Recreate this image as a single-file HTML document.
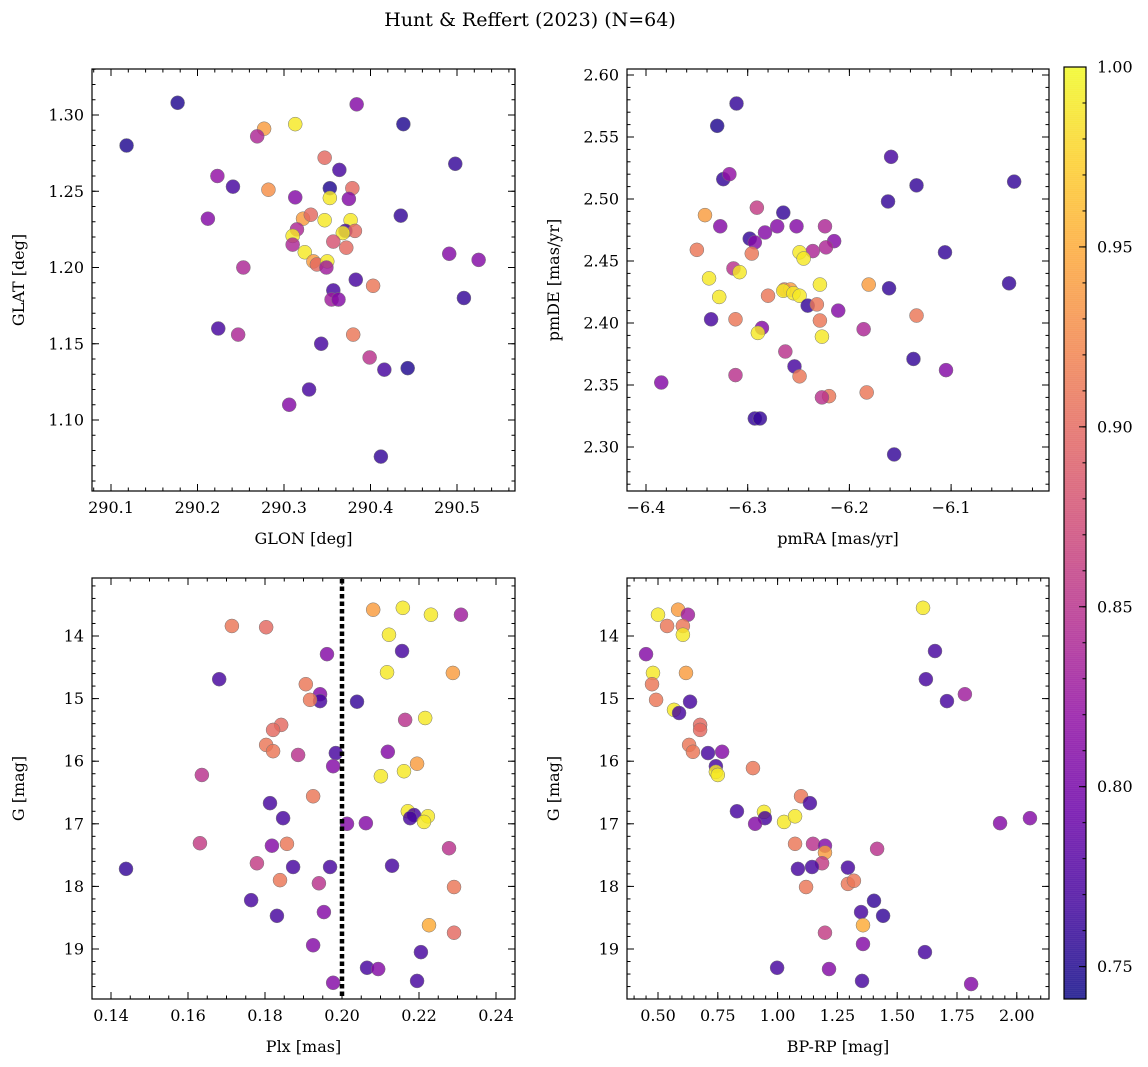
<!DOCTYPE html>
<html><head><meta charset="utf-8"><style>
html,body{margin:0;padding:0;background:#fff;}
svg{display:block;font-family:"DejaVu Serif","Liberation Serif",serif;}
</style></head><body>
<svg id="fig" width="1148" height="1067" viewBox="0 0 1148 1067" xmlns="http://www.w3.org/2000/svg">
<text x="530" y="26" font-size="19" text-anchor="middle">Hunt &amp; Reffert (2023) (N=64)</text>
</svg>
<script>
// ---------- data ----------
const glon=[290.118,290.177,290.384,290.438,290.277,290.269,290.313,290.498,290.347,290.364,290.223,290.241,290.282,290.353,290.379,290.313,290.353,290.375,290.212,290.435,290.322,290.331,290.347,290.377,290.315,290.371,290.382,290.368,290.310,290.310,290.357,290.372,290.324,290.491,290.334,290.338,290.350,290.349,290.525,290.253,290.383,290.403,290.357,290.355,290.363,290.508,290.224,290.247,290.380,290.343,290.399,290.416,290.443,290.329,290.306,290.412];
const glat=[1.280,1.308,1.307,1.294,1.291,1.286,1.294,1.268,1.272,1.264,1.260,1.253,1.251,1.252,1.252,1.246,1.2456,1.245,1.232,1.234,1.232,1.2346,1.231,1.231,1.225,1.224,1.224,1.2226,1.2207,1.215,1.217,1.213,1.210,1.209,1.204,1.202,1.204,1.200,1.205,1.200,1.192,1.188,1.185,1.179,1.179,1.180,1.160,1.156,1.156,1.150,1.141,1.133,1.134,1.120,1.110,1.076];
const c1=[0.75,0.75,0.81,0.75,0.94,0.84,0.99,0.76,0.90,0.77,0.82,0.77,0.93,0.75,0.90,0.81,0.99,0.81,0.81,0.76,0.94,0.90,0.99,0.99,0.84,0.77,0.90,0.99,0.99,0.84,0.88,0.90,0.99,0.81,0.94,0.90,0.99,0.83,0.81,0.84,0.77,0.91,0.77,0.83,0.81,0.76,0.77,0.84,0.91,0.77,0.85,0.77,0.75,0.77,0.81,0.76];

const pmra=[-6.311,-6.330,-6.324,-6.318,-6.159,-6.134,-6.038,-6.162,-6.342,-6.265,-6.291,-6.327,-6.271,-6.252,-6.224,-6.215,-6.236,-6.223,-6.298,-6.350,-6.293,-6.283,-6.296,-6.249,-6.245,-6.106,-6.314,-6.308,-6.338,-6.161,-6.181,-6.229,-6.043,-6.264,-6.258,-6.265,-6.255,-6.249,-6.280,-6.328,-6.211,-6.241,-6.232,-6.134,-6.336,-6.312,-6.229,-6.286,-6.186,-6.290,-6.227,-6.137,-6.263,-6.254,-6.249,-6.312,-6.105,-6.183,-6.385,-6.220,-6.227,-6.293,-6.288,-6.156];
const pmde=[2.577,2.559,2.516,2.520,2.534,2.511,2.514,2.498,2.487,2.489,2.493,2.478,2.478,2.478,2.478,2.466,2.458,2.461,2.468,2.459,2.465,2.473,2.456,2.457,2.452,2.457,2.444,2.441,2.436,2.428,2.431,2.431,2.432,2.427,2.427,2.426,2.424,2.422,2.422,2.421,2.410,2.414,2.415,2.406,2.403,2.403,2.402,2.396,2.395,2.392,2.389,2.371,2.377,2.365,2.357,2.358,2.362,2.344,2.352,2.341,2.340,2.323,2.323,2.294];
const c2=[0.76,0.75,0.76,0.82,0.77,0.76,0.76,0.76,0.94,0.76,0.86,0.81,0.81,0.81,0.84,0.81,0.84,0.84,0.76,0.91,0.81,0.81,0.91,0.99,0.99,0.76,0.85,0.99,0.99,0.76,0.94,0.99,0.76,0.91,0.94,0.99,0.99,0.99,0.91,0.99,0.81,0.76,0.91,0.91,0.77,0.91,0.91,0.81,0.84,0.99,0.99,0.76,0.85,0.77,0.91,0.85,0.81,0.91,0.81,0.91,0.85,0.76,0.76,0.76];

const plx=[0.1714,0.1803,0.2081,0.2158,0.2231,0.2309,0.2122,0.1681,0.1961,0.2156,0.2117,0.2288,0.1906,0.1943,0.1943,0.1917,0.2039,0.2216,0.2164,0.1842,0.1821,0.1803,0.1821,0.1886,0.1984,0.2119,0.1977,0.2195,0.2161,0.2101,0.1636,0.1925,0.1813,0.2171,0.2187,0.2177,0.2223,0.2213,0.1847,0.2013,0.2062,0.1631,0.1818,0.1857,0.2278,0.1439,0.1779,0.1873,0.1969,0.2130,0.1839,0.1940,0.2291,0.1764,0.1831,0.1953,0.2226,0.2291,0.1925,0.2205,0.2065,0.2094,0.2195,0.1977];
const gmag3=[13.84,13.86,13.58,13.55,13.66,13.66,13.98,14.69,14.29,14.24,14.58,14.59,14.77,14.93,15.04,15.02,15.05,15.31,15.34,15.42,15.50,15.74,15.84,15.90,15.87,15.85,16.08,16.04,16.16,16.24,16.22,16.56,16.67,16.80,16.86,16.91,16.88,16.97,16.91,17.00,16.99,17.31,17.35,17.32,17.39,17.72,17.63,17.69,17.69,17.67,17.90,17.95,18.01,18.22,18.47,18.41,18.62,18.74,18.94,19.05,19.30,19.32,19.51,19.54];
const c3=[0.91,0.90,0.94,0.99,0.99,0.83,0.99,0.77,0.81,0.77,0.99,0.94,0.91,0.81,0.77,0.91,0.76,0.99,0.85,0.90,0.90,0.91,0.91,0.85,0.77,0.81,0.81,0.94,0.99,0.99,0.85,0.91,0.77,0.99,0.77,0.77,0.99,0.99,0.77,0.81,0.81,0.86,0.81,0.91,0.85,0.76,0.86,0.77,0.77,0.77,0.91,0.85,0.91,0.77,0.77,0.81,0.95,0.90,0.81,0.77,0.77,0.81,0.77,0.81];

const bprp=[0.500,0.584,0.538,0.625,0.604,0.604,0.450,0.479,0.617,0.475,0.492,0.634,0.567,0.588,0.676,0.676,0.630,0.646,0.709,0.768,0.742,0.742,0.750,0.897,0.830,0.943,0.947,0.906,1.027,1.073,1.098,1.135,1.073,1.148,1.198,1.198,1.186,1.144,1.085,1.294,1.416,1.294,1.319,1.119,1.403,1.441,1.349,1.357,1.198,1.357,1.616,0.998,1.215,1.353,1.809,1.608,1.658,1.620,1.783,1.708,1.930,2.055];
const gmag4=[13.66,13.58,13.84,13.66,13.84,13.98,14.29,14.59,14.59,14.77,15.02,15.05,15.18,15.23,15.42,15.50,15.74,15.85,15.87,15.85,16.08,16.17,16.22,16.11,16.80,16.81,16.91,17.00,16.97,16.88,16.56,16.67,17.32,17.32,17.35,17.46,17.63,17.69,17.72,17.70,17.40,17.96,17.91,18.01,18.23,18.47,18.41,18.62,18.74,18.92,19.05,19.30,19.32,19.51,19.56,13.55,14.24,14.69,14.93,15.04,16.99,16.91];
const c4=[0.99,0.94,0.91,0.83,0.91,0.99,0.81,0.99,0.94,0.91,0.91,0.77,0.99,0.77,0.90,0.90,0.91,0.91,0.77,0.81,0.77,0.99,0.99,0.91,0.77,0.99,0.77,0.81,0.99,0.99,0.91,0.77,0.91,0.85,0.81,0.94,0.86,0.77,0.77,0.77,0.85,0.91,0.91,0.91,0.76,0.76,0.77,0.95,0.86,0.81,0.77,0.77,0.81,0.77,0.81,0.99,0.77,0.77,0.83,0.77,0.81,0.81];

const xt1=[290.1,290.2,290.3,290.4,290.5], yt1=[1.10,1.15,1.20,1.25,1.30];
const xt2=[-6.4,-6.3,-6.2,-6.1], yt2=[2.30,2.35,2.40,2.45,2.50,2.55,2.60];
const xt3=[0.14,0.16,0.18,0.20,0.22,0.24], yt3=[14,15,16,17,18,19];
const xt4=[0.50,0.75,1.00,1.25,1.50,1.75,2.00];
const cbt=[0.75,0.80,0.85,0.90,0.95,1.00];
const plxCut=0.200;
const cmin=0.741,cmax=1.0;

// ---------- drawing ----------
const NS="http://www.w3.org/2000/svg";
const svg=document.getElementById('fig');
function mk(tag,attrs,parent){const e=document.createElementNS(NS,tag);for(const k in attrs)e.setAttribute(k,attrs[k]);(parent||svg).appendChild(e);return e;}
const stops=[[13,8,135],[65,4,157],[106,0,168],[143,13,164],[177,42,144],[204,71,120],[225,100,98],[242,132,75],[252,166,54],[252,206,37],[240,249,33]];
function plasma(v){let t=(v-cmin)/(cmax-cmin);t=Math.max(0,Math.min(1,t))*10;const i=Math.min(9,Math.floor(t)),f=t-i;const a=stops[i],b=stops[i+1];return 'rgb('+a.map((x,k)=>Math.round(x+(b[k]-x)*f)).join(',')+')';}
function fmt(v,d){return v.toFixed(d).replace('-','\u2212');}

function panel(name,L,T,R,B,xmin,xmax,ymin,ymax,invY,xt,yt,xd,yd,xminor,yminor,xl,yl,X,Y,C){
  const g=mk('g',{});
  
  
  const sx=v=>L+(v-xmin)/(xmax-xmin)*(R-L);
  const sy=v=>invY?T+(v-ymin)/(ymax-ymin)*(B-T):B-(v-ymin)/(ymax-ymin)*(B-T);
  const pts=mk('g',{},g);
  
  
  for(let i=0;i<X.length;i++){
    const c=mk('circle',{cx:sx(X[i]),cy:sy(Y[i]),r:7,fill:plasma(C[i]),'fill-opacity':0.82,stroke:'#777','stroke-width':0.5},pts);
    
    
  }
  const fr=mk('rect',{x:L,y:T,width:R-L,height:B-T,fill:'none',stroke:'#000','stroke-width':1.2},g);
  
  
  const tk=mk('g',{stroke:'#000','stroke-width':1},g);
  const lo=Math.min(xmin,xmax),hi=Math.max(xmin,xmax);
  for(let v=Math.ceil(lo/xminor-1e-6)*xminor;v<=hi+1e-9;v+=xminor){const x=sx(v);mk('line',{x1:x,x2:x,y1:B,y2:B-3.5},tk);mk('line',{x1:x,x2:x,y1:T,y2:T+3.5},tk);}
  for(let v=Math.ceil(ymin/yminor-1e-6)*yminor;v<=ymax+1e-9;v+=yminor){const y=sy(v);mk('line',{y1:y,y2:y,x1:L,x2:L+3.5},tk);mk('line',{y1:y,y2:y,x1:R,x2:R-3.5},tk);}
  xt.forEach(v=>{const x=sx(v);mk('line',{x1:x,x2:x,y1:B,y2:B-7},tk);mk('line',{x1:x,x2:x,y1:T,y2:T+7},tk);
    const t=mk('text',{x:x,y:B+22,'font-size':16,'text-anchor':'middle'},g);t.textContent=fmt(v,xd);
    });
  yt.forEach(v=>{const y=sy(v);mk('line',{y1:y,y2:y,x1:L,x2:L+7},tk);mk('line',{y1:y,y2:y,x1:R,x2:R-7},tk);
    const t=mk('text',{x:L-8,y:y+5.5,'font-size':16,'text-anchor':'end'},g);t.textContent=fmt(v,yd);
    });
  const xa=mk('text',{x:(L+R)/2,y:B+53,'font-size':16,'text-anchor':'middle'},g);xa.textContent=xl;
  
  const ya=mk('text',{x:0,y:0,'font-size':16,'text-anchor':'middle',transform:'translate('+(L-68)+','+((T+B)/2)+') rotate(-90)'},g);ya.textContent=yl;
  
  return {sx,sy,g};
}
// panel 1
panel('glon-glat-panel',92,69,515,491,290.1-19/865,290.1+(515-111)/865,1.30-(491-115)/1525,1.30+(115-69)/1525,false,xt1,yt1,1,2,0.02,0.01,'GLON [deg]','GLAT [deg]',glon,glat,c1);
// panel 2
panel('pm-panel',627,69,1049,491,-6.4-19/1017,-6.4+(1049-646)/1017,2.60-(491-75)/1240,2.60+(75-69)/1240,false,xt2,yt2,1,2,0.02,0.01,'pmRA [mas/yr]','pmDE [mas/yr]',pmra,pmde,c2);
// panel 3
const p3=panel('plx-g-panel',92,578,515,999,0.14-19/3850,0.14+(515-111)/3850,14-(636-578)/62.6,14+(999-636)/62.6,true,xt3,yt3,2,0,0.005,0.2,'Plx [mas]','G [mag]',plx,gmag3,c3);
const cut=mk('line',{x1:p3.sx(plxCut),x2:p3.sx(plxCut),y1:579,y2:998,stroke:'#000','stroke-width':4.5,'stroke-dasharray':'4.5,3'},p3.g);


// panel 4
panel('cmd-panel',627,578,1049,999,0.5-31/239.2,0.5+(1049-658)/239.2,14-(636-578)/62.6,14+(999-636)/62.6,true,xt4,yt3,2,0,0.05,0.2,'BP-RP [mag]','G [mag]',bprp,gmag4,c4);

// colorbar
const cb=mk('g',{});


const CT=67,CB=999,CL=1064,CR=1086;
const cy=v=>CB-(v-cmin)/(cmax-cmin)*(CB-CT);
for(let y=CT;y<CB;y+=2){const v=cmin+(CB-y-1)/(CB-CT)*(cmax-cmin);mk('rect',{x:CL,y:y,width:CR-CL,height:2.2,fill:plasma(v),'fill-opacity':0.82},cb);}
mk('rect',{x:CL,y:CT,width:CR-CL,height:CB-CT,fill:'none',stroke:'#000','stroke-width':1.2},cb);
for(let v=0.75;v<=1.0001;v+=0.01){mk('line',{x1:CR,x2:CR-3.5,y1:cy(v),y2:cy(v),stroke:'#000'},cb);}
cbt.forEach(v=>{mk('line',{x1:CR,x2:CR-7,y1:cy(v),y2:cy(v),stroke:'#000'},cb);
  const t=mk('text',{x:CR+11,y:cy(v)+5.5,'font-size':16},cb);t.textContent=v.toFixed(2);
  });
</script>
</body></html>
